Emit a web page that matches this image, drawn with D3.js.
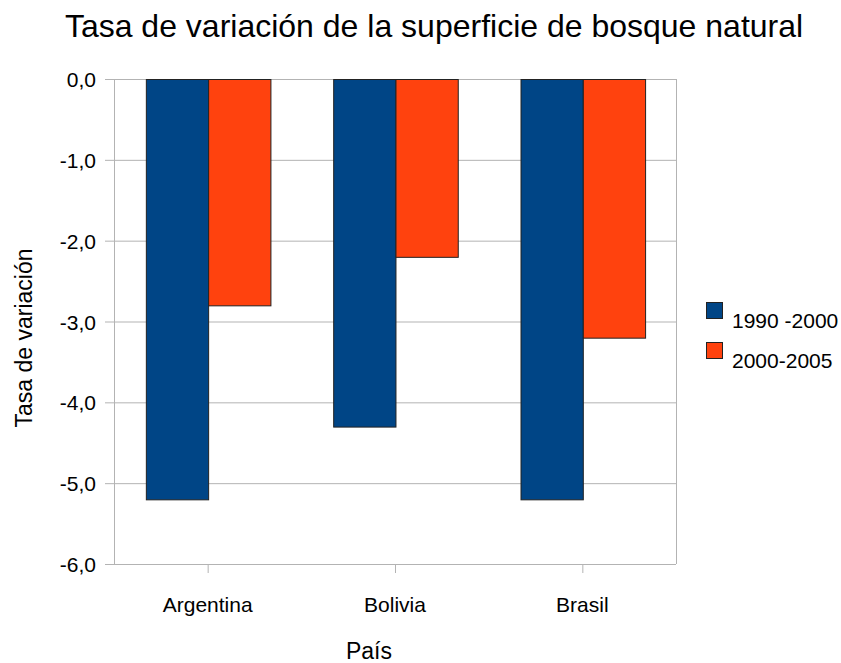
<!DOCTYPE html>
<html>
<head>
<meta charset="utf-8">
<script src="https://cdn.jsdelivr.net/npm/d3@7"></script>
<style>
  body { margin: 0; background: #fff; }
  text { font-family: "Liberation Sans", Arial, sans-serif; fill: #000; }
</style>
</head>
<body>
<div id="vis"></div>
<script>
// chart data
var paises = ["Argentina", "Bolivia", "Brasil"];
var series = ["1990 -2000", "2000-2005"];
var v1990 = [-5.2, -4.3, -5.2];
var v2000 = [-2.8, -2.2, -3.2];
var yTicks = [0, -1, -2, -3, -4, -5, -6];
var colores = ["#004586", "#ff420e"];

var W = 841, H = 663;
var margin = {top: 79, right: 165, bottom: 99, left: 114};
var w = W - margin.left - margin.right,
    h = H - margin.top - margin.bottom;

var svg = d3.select("#vis").append("svg")
  .attr("width", W)
  .attr("height", H);

var g = svg.append("g").attr("transform", `translate(${margin.left},${margin.top})`);

var x = d3.scaleBand().domain(paises).range([0, w]);
var inner = d3.scaleBand().domain(series).range([x.bandwidth() * 0.17, x.bandwidth() * 0.835]);
var y = d3.scaleLinear().domain([0, -6]).range([0, h]);

// gridlines
g.selectAll(".grid").data(yTicks).enter().append("line")
  .attr("x1", -9).attr("x2", w)
  .attr("y1", d => y(d) + 0.5).attr("y2", d => y(d) + 0.5)
  .attr("stroke", "#b3b3b3").attr("stroke-width", 1);

// y axis line
g.append("line")
  .attr("x1", 0.5).attr("x2", 0.5).attr("y1", 0).attr("y2", h)
  .attr("stroke", "#b3b3b3");
// right border
g.append("line")
  .attr("x1", w + 0.5).attr("x2", w + 0.5).attr("y1", 0).attr("y2", h)
  .attr("stroke", "#b3b3b3");

// x ticks
g.selectAll(".xt").data(paises).enter().append("line")
  .attr("x1", d => x(d) + x.bandwidth() / 2 + 0.5)
  .attr("x2", d => x(d) + x.bandwidth() / 2 + 0.5)
  .attr("y1", h).attr("y2", h + 9)
  .attr("stroke", "#b3b3b3");

// y labels
g.selectAll(".yl").data(yTicks).enter().append("text")
  .attr("x", -18).attr("y", d => y(d) + 8)
  .attr("text-anchor", "end")
  .style("font-size", "21px")
  .text(d => d3.format(".1f")(d).replace("−", "-").replace(".", ","));

// bars
var datos = paises.map((p, i) => ({pais: p, vals: [v1990[i], v2000[i]]}));
var grp = g.selectAll(".grp").data(datos).enter().append("g")
  .attr("transform", d => `translate(${x(d.pais)},0)`);
grp.selectAll("rect").data(d => d.vals.map((v, j) => ({s: series[j], v: v, j: j})))
  .enter().append("rect")
  .attr("x", d => inner(d.s) + 0.5)
  .attr("y", y(0) + 0.5)
  .attr("width", inner.bandwidth())
  .attr("height", d => y(d.v) - y(0))
  .attr("fill", d => colores[d.j])
  .attr("stroke", "#222")
  .attr("stroke-width", 1);

// x labels
g.selectAll(".xl").data(paises).enter().append("text")
  .attr("x", d => x(d) + x.bandwidth() / 2)
  .attr("y", 612 - margin.top)
  .attr("text-anchor", "middle")
  .style("font-size", "21px")
  .text(d => d);

// titles
svg.append("text")
  .attr("x", 434).attr("y", 37)
  .attr("text-anchor", "middle")
  .style("font-size", "32px")
  .text("Tasa de variación de la superficie de bosque natural");

svg.append("text")
  .attr("x", 369).attr("y", 659)
  .attr("text-anchor", "middle")
  .style("font-size", "23px")
  .text("País");

svg.append("text")
  .attr("transform", "translate(32,338) rotate(-90)")
  .attr("text-anchor", "middle")
  .style("font-size", "23px")
  .text("Tasa de variación");

// legend
var leg = svg.append("g").attr("transform", "translate(706,302)");
var li = leg.selectAll("g").data(series).enter().append("g")
  .attr("transform", (d, i) => `translate(0,${i * 40})`);
li.append("rect")
  .attr("x", 0.5).attr("y", 0.5)
  .attr("width", 16).attr("height", 16)
  .attr("fill", (d, i) => colores[i])
  .attr("stroke", "#222");
li.append("text")
  .attr("x", 26).attr("y", 26)
  .style("font-size", "21px")
  .text(d => d);
</script>
</body>
</html>
